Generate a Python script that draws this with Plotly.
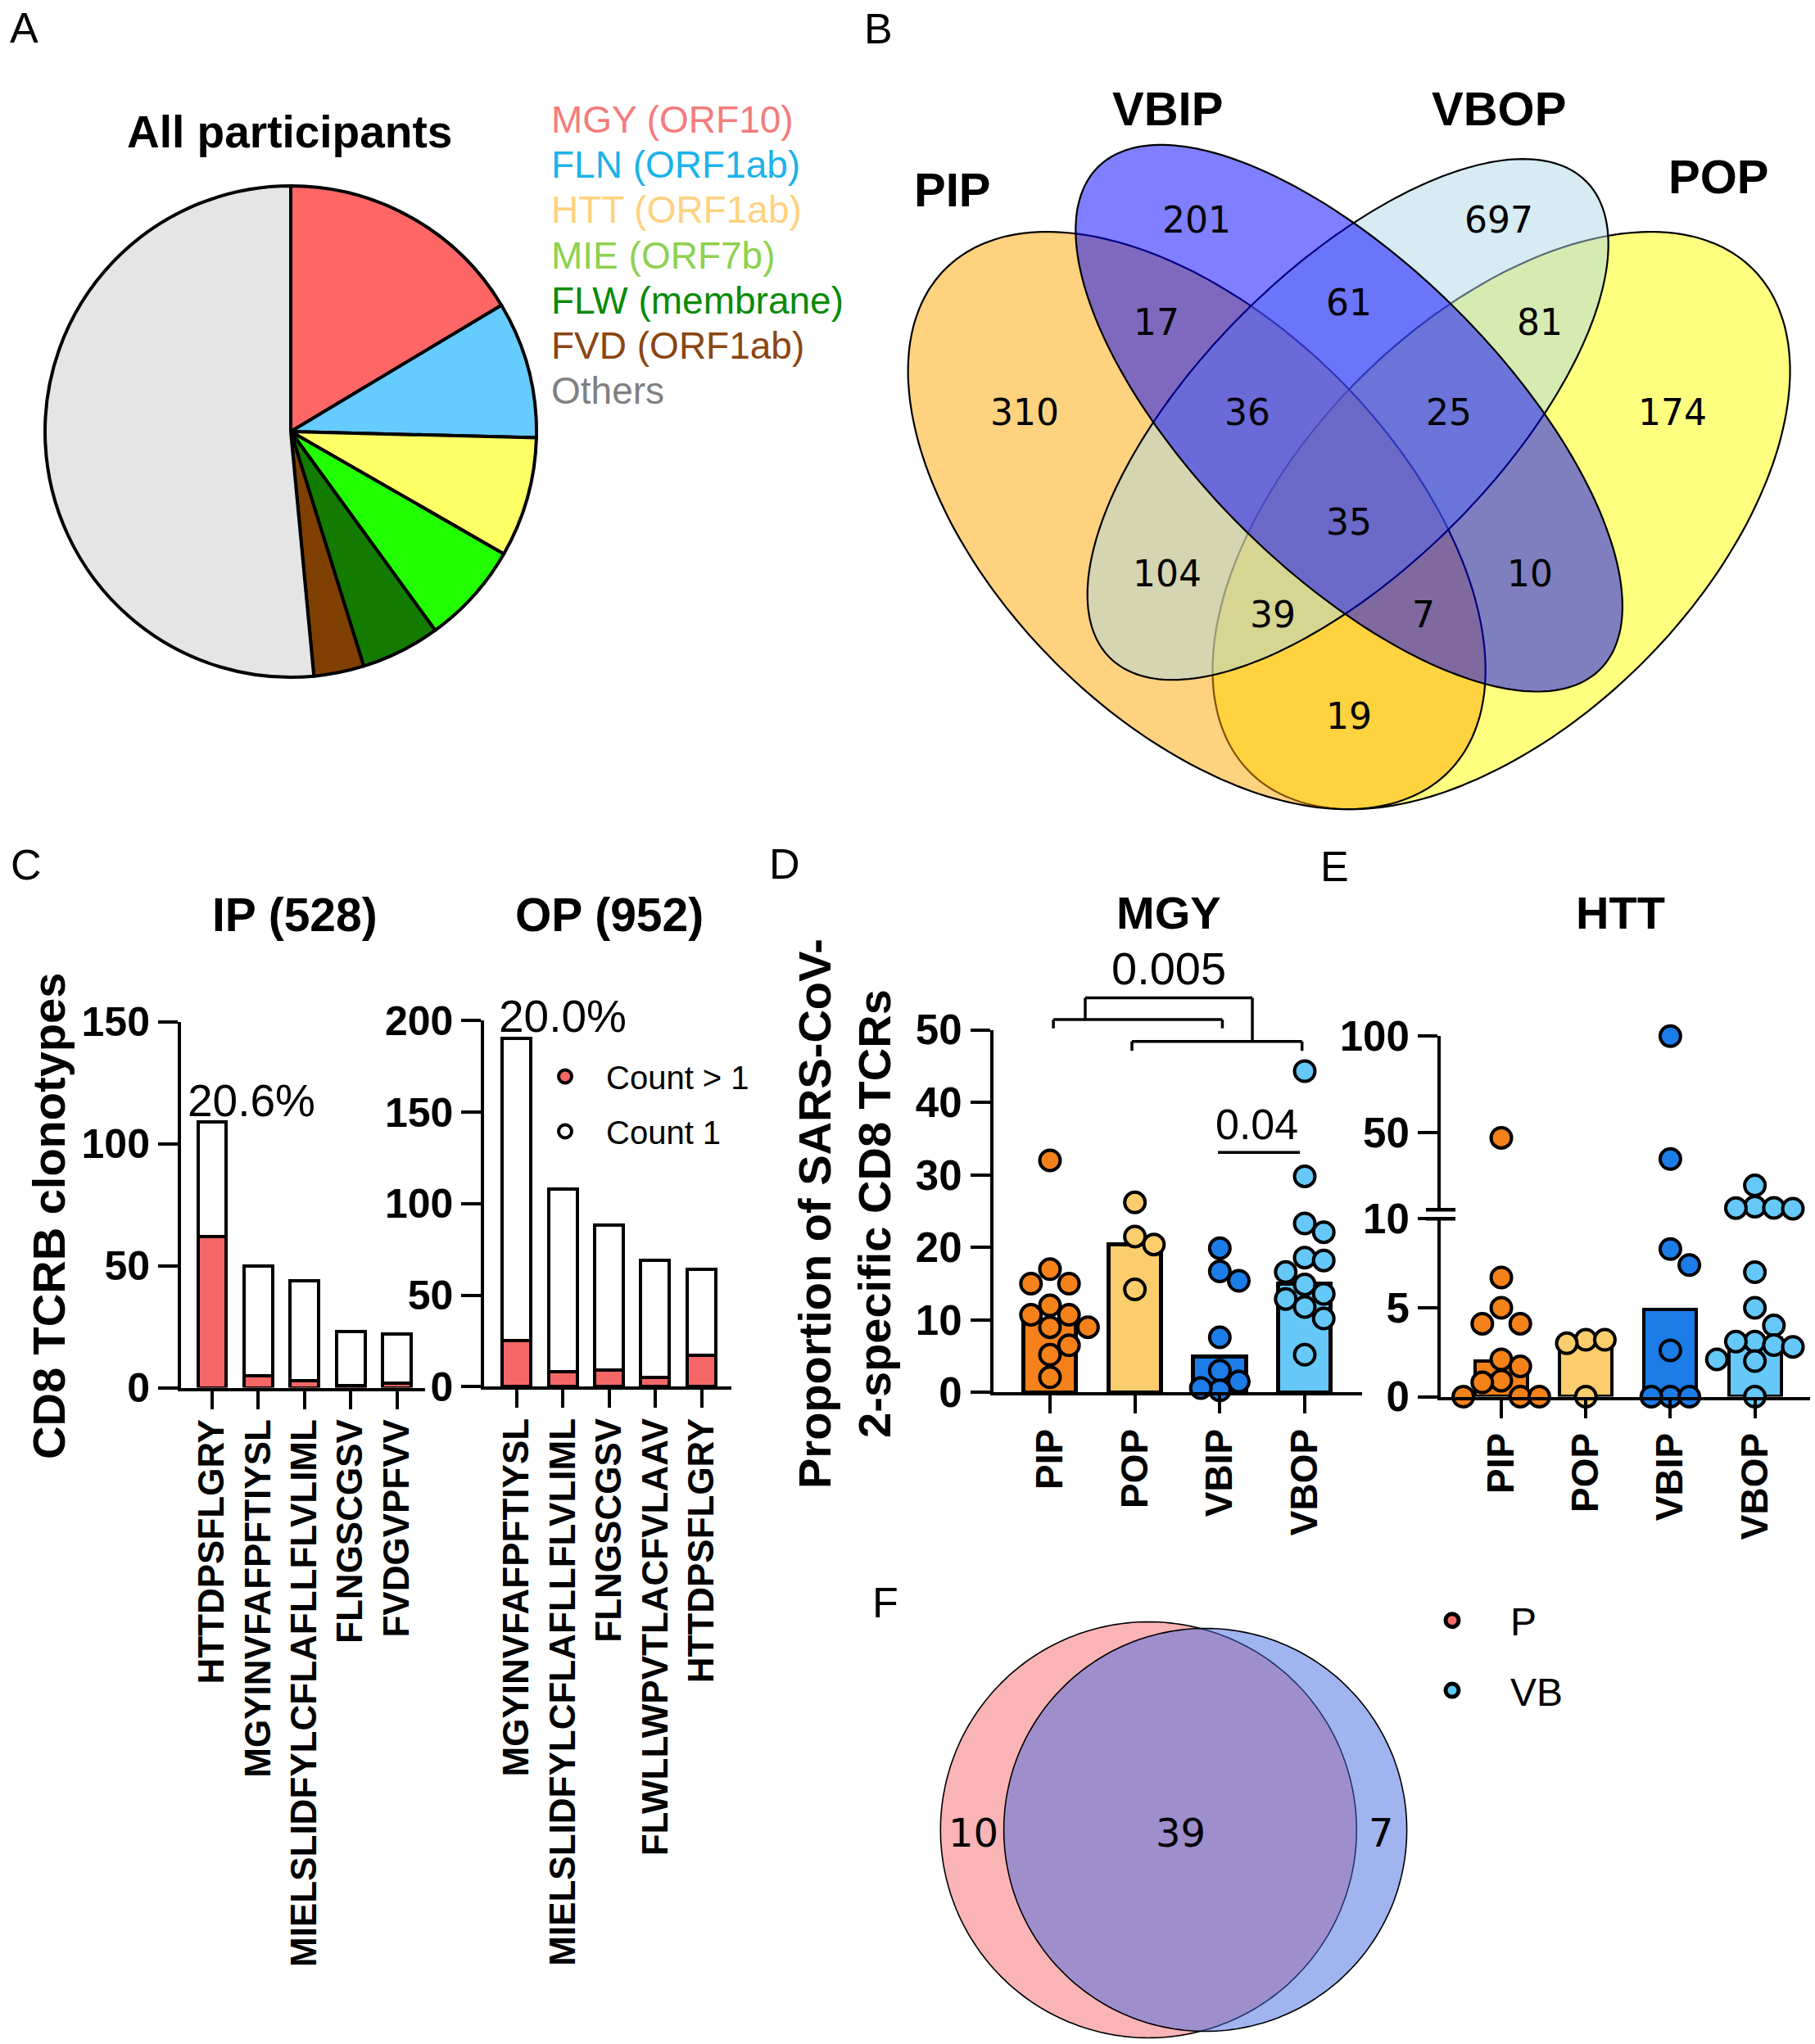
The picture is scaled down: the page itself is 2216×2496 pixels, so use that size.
import numpy as np
import plotly.graph_objects as go

W, H = 2216, 2496
ARIAL = "Liberation Sans, Arial, Helvetica, sans-serif"
DEJAVU = "DejaVu Sans, sans-serif"

# ---------------- data ----------------
pie_labels = ["MGY (ORF10)", "FLN (ORF1ab)", "HTT (ORF1ab)", "MIE (ORF7b)",
              "FLW (membrane)", "FVD (ORF1ab)", "Others"]
pie_values = [16.4, 9.0, 7.9, 6.7, 5.2, 3.3, 51.5]

venn4_sets = ["PIP", "VBIP", "VBOP", "POP"]
venn4_keys = ["1000", "0100", "0010", "0001", "1100", "0110", "0011", "1110",
              "0111", "1111", "1010", "0101", "1011", "1101", "1001"]
venn4_counts = [310, 201, 697, 174, 17, 61, 81, 36, 25, 35, 104, 10, 39, 7, 19]

ip_title = "IP (528)"
ip_peptides = ["HTTDPSFLGRY", "MGYINVFAFPFTIYSL", "MIELSLIDFYLCFLAFLLFLVLIML",
               "FLNGSCGSV", "FVDGVPFVV"]
ip_total = [109, 50, 44, 23, 22]
ip_multi = [62, 5, 3, 1, 2]
ip_pct = "20.6%"

op_title = "OP (952)"
op_peptides = ["MGYINVFAFPFTIYSL", "MIELSLIDFYLCFLAFLLFLVLIML", "FLNGSCGSV",
               "FLWLLWPVTLACFVLAAV", "HTTDPSFLGRY"]
op_total = [190, 108, 88, 69, 64]
op_multi = [25, 8, 9, 5, 17]
op_pct = "20.0%"

groups = ["PIP", "POP", "VBIP", "VBOP"]
mgy_pip = [32.0, 17.0, 15.0, 15.0, 12.0, 10.7, 10.7, 9.0, 9.0, 6.5, 5.2, 2.1]
mgy_pop = [26.2, 21.5, 20.4, 14.2]
mgy_vbip = [19.9, 16.7, 15.4, 7.6, 3.0, 1.5, 0.3, 0.6]
mgy_vbop = [44.3, 29.8, 23.3, 22.1, 18.6, 18.2, 16.6, 14.9, 13.6, 12.9, 11.8, 10.2, 5.2]
mgy_bars = [10.0, 20.4, 5.0, 15.0]
mgy_pvalues = ["0.005", "0.04"]

htt_pip = [47.3, 6.7, 5.0, 4.1, 4.1, 2.1, 1.7, 0.9, 0.8, 0.0, 0.0, 0.0]
htt_pop = [3.2, 3.0, 3.2, 0.0]
htt_vbip = [100.0, 36.3, 8.3, 7.4, 2.6, 0.0, 0.0, 0.0]
htt_vbop = [22.6, 11.6, 11.0, 10.6, 10.9, 7.0, 5.0, 4.0, 3.1, 3.1, 2.9, 2.8, 2.1, 2.0, 0.0]
htt_bars = [2.0, 3.1, 4.9, 3.3]

venn2_sets = ["P", "VB"]
venn2_counts = [10, 39, 7]  # P only, both, VB only

# ---------------- styles ----------------
pie_colors = ["#FF6666", "#66CCFF", "#FFFF66", "#22FF00", "#137B00", "#7F3F00", "#E5E5E5"]
pie_text_colors = ["#F47C7C", "#1BB3E9", "#FFD27F", "#8DD14F", "#0A8A0A", "#8B4513", "#808080"]
group_colors = ["#F4811A", "#FCCD6D", "#1C7CE8", "#66C8F8"]
RED = "#F56767"

fig = go.Figure()
annotations = []
shapes = []


def lin(p0, p1, v0, v1):
    return lambda v: p0 + (v - v0) * (p1 - p0) / (v1 - v0)


def ann(x, y, text, size, family=ARIAL, bold=False, color="black", xanchor="center",
        yanchor="middle", angle=0):
    annotations.append(dict(x=x, y=y, xref="x5", yref="y6", text=text, showarrow=False,
                            xanchor=xanchor, yanchor=yanchor, textangle=angle,
                            font=dict(size=size, family=family, color=color,
                                      weight="bold" if bold else "normal")))


def line(x0, y0, x1, y1, w=3.5):
    shapes.append(dict(type="line", xref="x5", yref="y6", x0=x0, y0=y0, x1=x1, y1=y1,
                       line=dict(color="black", width=w), layer="above"))


# ---------------- A: pie ----------------
pie_cx, pie_cy, pie_r = 355, 527, 300
fig.add_trace(go.Pie(values=pie_values, labels=pie_labels, sort=False, direction="clockwise",
                     rotation=0, textinfo="none", showlegend=False, hoverinfo="label+value",
                     marker=dict(colors=pie_colors, line=dict(color="black", width=4)),
                     domain=dict(x=[(pie_cx - pie_r) / W, (pie_cx + pie_r) / W],
                                 y=[1 - (pie_cy + pie_r) / H, 1 - (pie_cy - pie_r) / H])))
ann(353, 161, "All participants", 55, bold=True)
for i, (lab, col) in enumerate(zip(pie_labels, pie_text_colors)):
    ann(671, 146 + i * 55.2, lab, 46, color=col, xanchor="left")

# ---------------- B: 4-set venn ----------------
def ellipse_path(cx, cy, a, b, ang, n=240):
    t = np.linspace(0, 2 * np.pi, n, endpoint=False)
    ca, sa = np.cos(np.radians(ang)), np.sin(np.radians(ang))
    xs = cx + a * np.cos(t) * ca - b * np.sin(t) * sa
    ys = cy + a * np.cos(t) * sa + b * np.sin(t) * ca
    return "M " + " L ".join(f"{x:.1f},{y:.1f}" for x, y in zip(xs, ys)) + " Z"

venn4_geom = {  # center x, center y, semi-major, semi-minor, angle (screen, y down)
    "PIP": (1461.2, 635.6, 434.3, 244.8, 45),
    "VBIP": (1647.1, 510.7, 433.6, 186.6, 45),
    "VBOP": (1645.7, 512.2, 411.3, 181.9, -45),
    "POP": (1833.0, 635.6, 434.3, 244.8, -45),
}
venn4_fill = {"PIP": "rgba(255,165,0,0.5)", "VBIP": "rgba(0,0,255,0.5)",
              "VBOP": "rgba(173,216,230,0.5)", "POP": "rgba(255,255,0,0.5)"}
for s in ["POP", "PIP", "VBOP", "VBIP"]:
    shapes.append(dict(type="path", xref="x5", yref="y6", path=ellipse_path(*venn4_geom[s]),
                       fillcolor=venn4_fill[s], line=dict(color="black", width=2.2),
                       layer="above"))
venn4_label_px = [(1250.9, 500), (1460.5, 265), (1830, 265), (2042, 500), (1411.7, 390),
                  (1647, 366), (1880, 390), (1523, 500), (1769, 500), (1647, 634),
                  (1424.6, 697), (1868, 697), (1553.8, 747.6), (1738, 747.6), (1647, 871)]
for (x, y), c in zip(venn4_label_px, venn4_counts):
    ann(x, y + 3, str(c), 44, family=DEJAVU)
venn4_name_px = [(1163, 231), (1425, 132), (1830, 132), (2098, 215)]
for (x, y), nm in zip(venn4_name_px, venn4_sets):
    ann(x, y, nm, 58, bold=True)

# ---------------- C: stacked bars ----------------
AX_W = 4
def yax(dom_bot, dom_top, rng, tickvals, size, ticktext=None, anchor="x"):
    d = dict(domain=[1 - dom_bot / H, 1 - dom_top / H], range=rng, tickvals=tickvals,
             showline=True, linecolor="black", linewidth=AX_W, ticks="outside",
             ticklen=24, tickwidth=AX_W, tickcolor="black", showgrid=False, zeroline=False,
             tickfont=dict(size=size, family=ARIAL, color="black", weight="bold"),
             anchor=anchor, fixedrange=True)
    if ticktext is not None:
        d["ticktext"] = ticktext
    return d

def xax(p0, p1, rng, labels, size, anchor, standoff=0):
    return dict(domain=[p0 / W, p1 / W], range=rng, tickvals=list(range(len(labels))),
                ticktext=labels, tickangle=-90, showline=True, linecolor="black",
                linewidth=AX_W, ticks="outside", ticklen=22, tickwidth=AX_W,
                tickcolor="black", showgrid=False, zeroline=False, anchor=anchor,
                tickfont=dict(size=size, family=ARIAL, color="black", weight="bold"),
                ticklabelstandoff=standoff, fixedrange=True)

def stacked(xa, ya, total, multi):
    xs = list(range(len(total)))
    single = [t - m for t, m in zip(total, multi)]
    fig.add_trace(go.Bar(x=xs, y=multi, width=0.62, xaxis=xa, yaxis=ya, showlegend=False,
                         marker=dict(color=RED, line=dict(color="black", width=4)),
                         hoverinfo="y"))
    fig.add_trace(go.Bar(x=xs, y=single, width=0.62, xaxis=xa, yaxis=ya, showlegend=False,
                         marker=dict(color="white", line=dict(color="black", width=4)),
                         hoverinfo="y"))

stacked("x", "y", ip_total, ip_multi)
stacked("x2", "y2", op_total, op_multi)
# legend entries for panel C
fig.add_trace(go.Scatter(x=[None], y=[None], mode="markers", name="Count > 1", legend="legend",
                         legendgroup="c1", xaxis="x2", yaxis="y2",
                         marker=dict(size=20, color=RED, line=dict(color="black", width=4))))
fig.add_trace(go.Scatter(x=[None], y=[None], mode="markers", name="Count 1", legend="legend",
                         legendgroup="c2", xaxis="x2", yaxis="y2",
                         marker=dict(size=20, color="white", line=dict(color="black", width=4))))

ann(359.7, 1116.6, ip_title, 57, bold=True)
ann(744, 1116.6, op_title, 57, bold=True)
ann(59, 1485, "CD8 TCRB clonotypes", 56, bold=True, angle=-90)
ann(306.6, 1343.7, ip_pct, 55)
ann(687, 1240.5, op_pct, 55)

# ---------------- D / E: bars + points ----------------
def swarm(y_px, diam, step):
    order = sorted(range(len(y_px)), key=lambda i: y_px[i])
    placed, offs = [], [0.0] * len(y_px)
    cands = [0.0]
    for j in range(1, 30):
        cands += [j * step, -j * step]
    for i in order:
        y = y_px[i]
        for c in cands:
            if all((c - px) ** 2 + (y - py) ** 2 >= (diam * 0.78) ** 2 for px, py in placed):
                offs[i] = c
                placed.append((c, y))
                break
    return offs

MSIZE, MLINE, DIAM = 25, 4, 29

# D
D_x = (1212.7, 1663.0, -0.668, 3.675)
D_y = (1700.4, 1257.5, 0, 50)
xD = lin(*D_x)
yD = lin(*D_y)
D_unit = (D_x[1] - D_x[0]) / (D_x[3] - D_x[2])
fig.add_trace(go.Bar(x=list(range(4)), y=mgy_bars, width=0.62, xaxis="x3", yaxis="y3",
                     showlegend=False, hoverinfo="y",
                     marker=dict(color=group_colors, line=dict(color="black", width=4.5))))
for gi, vals in enumerate([mgy_pip, mgy_pop, mgy_vbip, mgy_vbop]):
    offs = swarm([yD(v) for v in vals], DIAM, DIAM * 0.8)
    fig.add_trace(go.Scatter(x=[gi + o / D_unit for o in offs], y=vals, mode="markers",
                             xaxis="x3", yaxis="y3", showlegend=False, cliponaxis=False,
                             marker=dict(size=MSIZE, color=group_colors[gi],
                                         line=dict(color="black", width=MLINE))))

# E (broken axis)
E_x = (1759.0, 2210.0, -0.717, 3.653)
E_lo = (1705.5, 1488.3, 0, 10)
E_hi = (1477.3, 1265.2, 10, 100)
yElo = lin(*E_lo)
yEhi = lin(*E_hi)
E_unit = (E_x[1] - E_x[0]) / (E_x[3] - E_x[2])
def yE(v):
    return yElo(v) if v <= 10 else yEhi(v)
fig.add_trace(go.Bar(x=list(range(4)), y=htt_bars, width=0.62, xaxis="x4", yaxis="y4",
                     showlegend=False, hoverinfo="y",
                     marker=dict(color=group_colors, line=dict(color="black", width=4.5))))
for gi, vals in enumerate([htt_pip, htt_pop, htt_vbip, htt_vbop]):
    offs = swarm([yE(v) for v in vals], DIAM, DIAM * 0.8)
    lo = [(gi + o / E_unit, v) for o, v in zip(offs, vals) if v <= 10]
    hi = [(gi + o / E_unit, v) for o, v in zip(offs, vals) if v > 10]
    for pts, ya in [(lo, "y4"), (hi, "y5")]:
        if pts:
            fig.add_trace(go.Scatter(x=[p[0] for p in pts], y=[p[1] for p in pts],
                                     mode="markers", xaxis="x4", yaxis=ya, showlegend=False,
                                     cliponaxis=False,
                                     marker=dict(size=MSIZE, color=group_colors[gi],
                                                 line=dict(color="black", width=MLINE))))
# axis break marks
for yv in (E_hi[0], E_lo[1]):
    line(E_x[0] - 18, yv, E_x[0] + 18, yv, w=4.5)

ann(1426.9, 1114.2, "MGY", 56, bold=True)
ann(1978, 1114.2, "HTT", 56, bold=True)
ann(1031, 1482, "Proportion of SARS-CoV-<br>2-specific CD8 TCRs", 56, bold=True, angle=-90)

# significance brackets (panel D)
b1 = (0.04, 2.03, 51.4, 50.2)
b2 = (0.965, 2.968, 48.4, 47.1)
for xa, xb, lv, dv in (b1, b2):
    line(xD(xa), yD(lv), xD(xb), yD(lv))
    line(xD(xa), yD(lv), xD(xa), yD(dv))
    line(xD(xb), yD(lv), xD(xb), yD(dv))
top = (0.415, 2.383, 54.4)
line(xD(top[0]), yD(top[2]), xD(top[1]), yD(top[2]))
line(xD(top[0]), yD(top[2]), xD(top[0]), yD(b1[2]))
line(xD(top[1]), yD(top[2]), xD(top[1]), yD(b2[2]))
ann(xD(1.398), yD(58.5), mgy_pvalues[0], 56)
line(xD(1.978), yD(33.1), xD(2.943), yD(33.1))
ann(xD(2.434), yD(37.0), mgy_pvalues[1], 52)

# ---------------- F: 2-set venn ----------------
def circle_path(cx, cy, r, n=240):
    return ellipse_path(cx, cy, r, r, 0, n)
shapes.append(dict(type="path", xref="x5", yref="y6", path=circle_path(1402.3, 2234.5, 254),
                   fillcolor="rgba(245,105,110,0.5)", line=dict(color="black", width=1.6),
                   layer="above"))
shapes.append(dict(type="path", xref="x5", yref="y6", path=circle_path(1471.6, 2234.5, 246),
                   fillcolor="rgba(65,105,225,0.5)", line=dict(color="black", width=1.6),
                   layer="above"))
for (x, y), c in zip([(1188.3, 2234.5), (1441.4, 2234.5), (1686.4, 2234.5)], venn2_counts):
    ann(x, y + 3, str(c), 48, family=DEJAVU)
for nm, col, grp in zip(venn2_sets, ["#F86B6B", "#5BC8F5"], ["f1", "f2"]):
    fig.add_trace(go.Scatter(x=[None], y=[None], mode="markers", name=nm, legend="legend2",
                             legendgroup=grp, xaxis="x2", yaxis="y2",
                             marker=dict(size=20, color=col, line=dict(color="black", width=5))))

# panel letters
for (x, y), L in zip([(29, 34), (1072, 35), (32, 1056), (958, 1055), (1629, 1058), (1081, 1957)],
                     "ABCDEF"):
    ann(x, y, L, 52)

# canvas axis dummy trace
fig.add_trace(go.Scatter(x=[None], y=[None], xaxis="x5", yaxis="y6", showlegend=False,
                         hoverinfo="skip"))

fig.update_layout(
    width=W, height=H, margin=dict(l=0, r=0, t=0, b=0, pad=0, autoexpand=False),
    autosize=False,
    paper_bgcolor="white", plot_bgcolor="rgba(0,0,0,0)", barmode="stack", bargap=0,
    font=dict(family=ARIAL, color="black"),
    xaxis=xax(221, 519, [-0.674, 4.61], ip_peptides, 44, "y", standoff=-5),
    yaxis=yax(1694.5, 1247.5, [0, 150], [0, 50, 100, 150], 50, anchor="x"),
    xaxis2=xax(591.4, 893, [-0.70, 4.64], op_peptides, 44, "y2", standoff=-5),
    yaxis2=yax(1693.3, 1246.4, [0, 200], [0, 50, 100, 150, 200], 50, anchor="x2"),
    xaxis3=xax(D_x[0], D_x[1], [D_x[2], D_x[3]], groups, 46, "y3"),
    yaxis3=yax(D_y[0], D_y[1], [0, 50], [0, 10, 20, 30, 40, 50], 51, anchor="x3"),
    xaxis4=xax(E_x[0], E_x[1], [E_x[2], E_x[3]], groups, 46, "y4"),
    yaxis4=yax(E_lo[0], E_lo[1], [0, 10], [0, 5, 10], 51, anchor="x4"),
    yaxis5=yax(E_hi[0], E_hi[1], [10, 100], [50, 100], 51, anchor="x4"),
    xaxis5=dict(domain=[0, 1], range=[0, W], visible=False, anchor="y6", fixedrange=True),
    yaxis6=dict(domain=[0, 1], range=[H, 0], visible=False, anchor="x5", fixedrange=True),
    legend=dict(x=640 / W, y=1 - 1282 / H, xanchor="left", yanchor="top",
                bgcolor="rgba(0,0,0,0)", font=dict(size=40, family=ARIAL),
                itemwidth=90, tracegroupgap=12),
    legend2=dict(x=1702 / W, y=1 - 1941 / H, xanchor="left", yanchor="top",
                 bgcolor="rgba(0,0,0,0)", font=dict(size=48, family=ARIAL),
                 itemwidth=132, tracegroupgap=20),
    annotations=annotations, shapes=shapes, showlegend=True,
)

fig.write_html("out.html", config={"displayModeBar": False},
               post_script="document.body.style.margin='0';")
